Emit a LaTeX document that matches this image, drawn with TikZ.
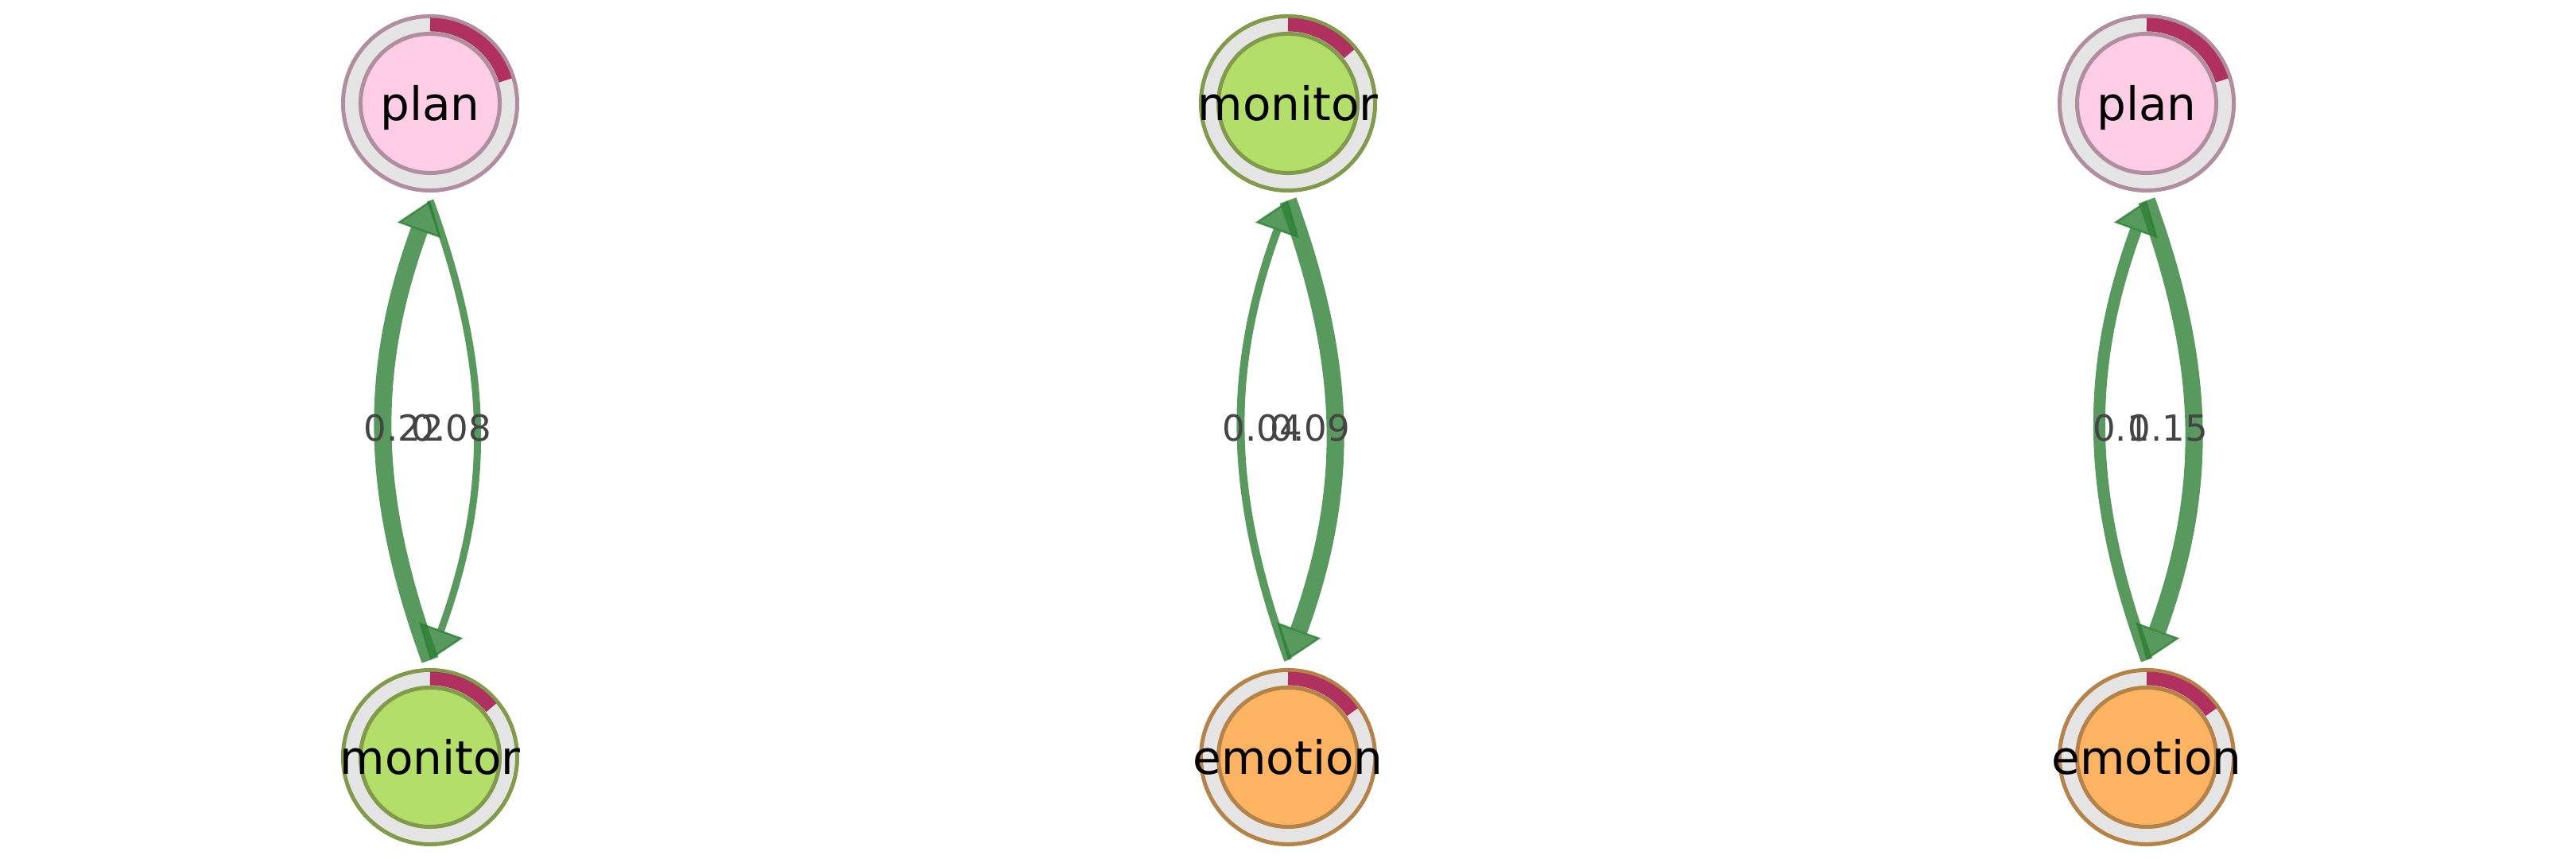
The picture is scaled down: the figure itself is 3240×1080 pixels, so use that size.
\documentclass[tikz,border=0pt]{standalone}
\usepackage{fontspec}
\setmainfont{DejaVu Sans}
\usetikzlibrary{arrows.meta}

\definecolor{ringgray}{RGB}{229,229,229}
\definecolor{sharered}{RGB}{176,48,96}
\definecolor{planfill}{RGB}{252,205,229}
\definecolor{planedge}{RGB}{176,142,160}
\definecolor{monitorfill}{RGB}{179,222,105}
\definecolor{monitoredge}{RGB}{128,155,74}
\definecolor{emotionfill}{RGB}{253,180,98}
\definecolor{emotionedge}{RGB}{181,130,72}
\definecolor{edgegreen}{RGB}{46,128,54}
\definecolor{labelgray}{RGB}{68,68,68}

\begin{document}
\begin{tikzpicture}[x=0.01cm, y=0.01cm,
        ring/.style={circle, inner sep=0pt, minimum size=2.19cm, outer sep=0.125cm, line width=0.05cm, fill=ringgray, draw=#1edge},
        core/.style={circle, inner sep=0pt, minimum size=1.75cm, line width=0.05cm, fill=#1fill, draw=#1edge},
        share/.style={line width=0.17cm, color=sharered},
        state_name/.style={font=\fontsize{16.5}{18}\selectfont, anchor=base},
        weight/.style={font=\fontsize{12.8}{14}\selectfont, text=labelgray, anchor=base},
        link/.style={draw=edgegreen, opacity=0.8, bend left=20,
            -{Triangle[length=0.4cm, width=0.58cm, line width=0.025cm]}}
    ]
    \useasboundingbox (0,0) rectangle (3240,1080);

    % plan <-> monitor
    \begin{scope}[shift={(541,0)}]
        % Stati
        \node[ring=plan] (p1) at (0,950) {};
        \draw[share] (p1.center) ++(90:99) arc[start angle=90, end angle=17, radius=99];
        \node[core=plan] (p1c) at (p1.center) {};
        \node[state_name] (p1t) at (0,928.3) {plan};

        \node[ring=monitor] (m1) at (0,128) {};
        \draw[share] (m1.center) ++(90:99) arc[start angle=90, end angle=39, radius=99];
        \node[core=monitor] (m1c) at (m1.center) {};
        \node[state_name] (m1t) at (0,106.3) {monitor};

        % Transizioni
        \draw[link, line width=0.22cm] (m1.north) to (p1.south);
        \draw[link, line width=0.09cm] (p1.south) to (m1.north);

        % Pesi
        \node[weight] (w1b) at (27,525) {0.08};
        \node[weight] (w1a) at (-33,525) {0.22};
    \end{scope}

    % monitor <-> emotion
    \begin{scope}[shift={(1620,0)}]
        % Stati
        \node[ring=monitor] (m2) at (0,950) {};
        \draw[share] (m2.center) ++(90:99) arc[start angle=90, end angle=39, radius=99];
        \node[core=monitor] (m2c) at (m2.center) {};
        \node[state_name] (m2t) at (0,928.3) {monitor};

        \node[ring=emotion] (e2) at (0,128) {};
        \draw[share] (e2.center) ++(90:99) arc[start angle=90, end angle=35, radius=99];
        \node[core=emotion] (e2c) at (e2.center) {};
        \node[state_name] (e2t) at (0,106.3) {emotion};

        % Transizioni
        \draw[link, line width=0.1cm] (e2.north) to (m2.south);
        \draw[link, line width=0.22cm] (m2.south) to (e2.north);

        % Pesi
        \node[weight] (w2b) at (28,525) {0.09};
        \node[weight] (w2a) at (-32,525) {0.04};
    \end{scope}

    % plan <-> emotion
    \begin{scope}[shift={(2700,0)}]
        % Stati
        \node[ring=plan] (p3) at (0,950) {};
        \draw[share] (p3.center) ++(90:99) arc[start angle=90, end angle=17, radius=99];
        \node[core=plan] (p3c) at (p3.center) {};
        \node[state_name] (p3t) at (0,928.3) {plan};

        \node[ring=emotion] (e3) at (0,128) {};
        \draw[share] (e3.center) ++(90:99) arc[start angle=90, end angle=35, radius=99];
        \node[core=emotion] (e3c) at (e3.center) {};
        \node[state_name] (e3t) at (0,106.3) {emotion};

        % Transizioni
        \draw[link, line width=0.15cm] (e3.north) to (p3.south);
        \draw[link, line width=0.22cm] (p3.south) to (e3.north);

        % Pesi
        \node[weight] (w3b) at (27,525) {0.15};
        \node[weight] (w3a) at (-32,525) {0.1};
    \end{scope}
\end{tikzpicture}
\end{document}
